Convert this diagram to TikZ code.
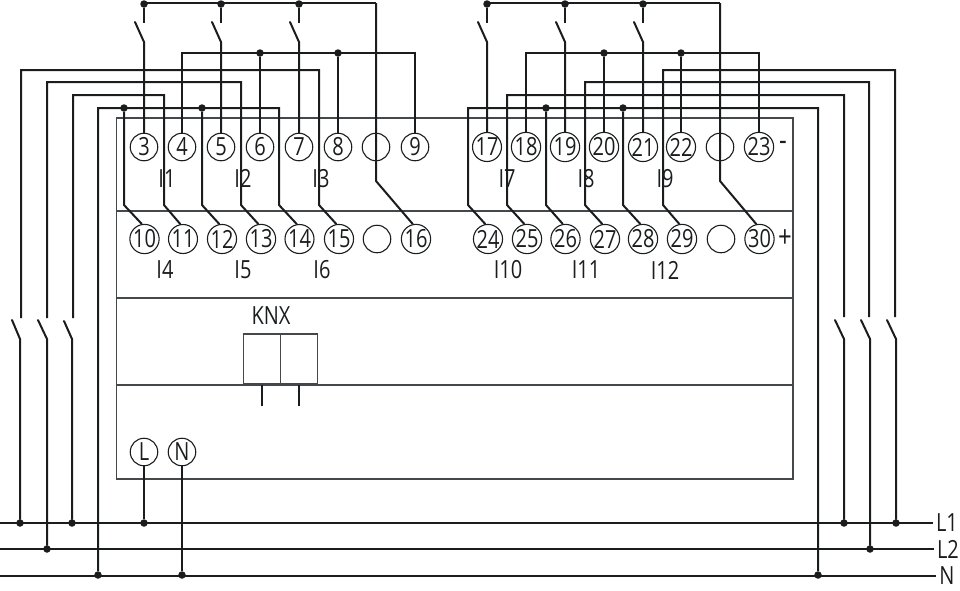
\documentclass[tikz,border=0pt]{standalone}
\usepackage{fontspec}
\setmainfont[FakeStretch=0.8]{Open Sans}
\definecolor{wirecol}{HTML}{1A1C1E}
\definecolor{casecol}{HTML}{44484A}
\tikzset{
  wire/.style={draw=wirecol,line width=2pt},
  casing/.style={draw=casecol,line width=1.4pt},
  terminal/.style={circle,draw=wirecol,line width=1.1pt,inner sep=0pt,minimum size=27.5pt,font=\fontsize{25}{25}\selectfont,text=wirecol},
  junction/.style={circle,fill=wirecol,inner sep=0pt,minimum size=7.5pt},
  lab/.style={inner sep=0pt,font=\fontsize{25}{25}\selectfont,text=wirecol},
  knxbox/.style={rectangle,casing,minimum width=37pt,minimum height=50pt,inner sep=0pt}
}
\begin{document}
\begin{tikzpicture}[x=1pt,y=-1pt]
\useasboundingbox (0,0) rectangle (960,590);

% Device
\draw[casing] (116.5,118) rectangle (793,479);
\draw[casing] (116.5,211) -- (793,211);
\draw[casing] (116.5,298) -- (793,298);
\draw[casing] (116.5,385) -- (793,385);
\node[knxbox] (k1) at (262,359) {};
\node[knxbox] (k2) at (299,359) {};
\node[lab] (knx) at (271,315.5) {KNX};
\draw[wire] (k1.south) -- ++(0,21);
\draw[wire] (k2.south) -- ++(0,21);

% Terminals
\foreach \n/\x in {3/144,4/182,5/221,6/260,7/299,8/338,9/415,17/487,18/526,19/565,20/604,21/643,22/681,23/759}
  \node[terminal] (t\n) at (\x,147) {\n};
\foreach \n/\x in {10/144.5,11/183,12/222,13/261,14/299.5,15/339,16/416,24/488,25/527,26/565.5,27/605,28/643,29/682,30/759.5}
  \node[terminal] (t\n) at (\x,239) {\n};
\node[terminal] (ta) at (376,147) {};
\node[terminal] (tb) at (720,147) {};
\node[terminal] (tc) at (377,239) {};
\node[terminal] (td) at (721,239) {};
\node[terminal] (tL) at (144,452) {L};
\node[terminal] (tN) at (182,452) {N};

% Labels
\foreach \n/\x/\y in {I1/167/178.5,I2/243/178.5,I3/321/178.5,I4/165/270,I5/243/270,I6/322/270,I7/507/178.5,I8/586/178.5,I9/665/178.5,I10/508/270,I11/586/270,I12/665/270}
  \node[lab] (\n) at (\x,\y) {\n};
\node[lab] (minus) at (783,146) {\fontsize{30}{30}\selectfont -};
\node[lab] (plus) at (785,239) {\fontsize{30}{30}\selectfont +};
\node[lab] (nL1) at (947,523) {L1};
\node[lab] (nL2) at (948,549) {L2};
\node[lab] (nN) at (947,575.5) {N};

% Buses
\draw[wire,shorten >=3pt] (0,523) -- (nL1.west |- 0,523);
\draw[wire,shorten >=3pt] (0,549) -- (nL2.west |- 0,549);
\draw[wire,shorten >=3pt] (0,576) -- (nN.west |- 0,576);
\node[junction] (b1) at (20,523) {};
\node[junction] (b2) at (47,549) {};
\node[junction] (b3) at (72,523) {};
\node[junction] (b4) at (98,575) {};
\node[junction] (b5) at (144,523) {};
\node[junction] (b6) at (182,575) {};
\node[junction] (b7) at (818,575) {};
\node[junction] (b8) at (844,523) {};
\node[junction] (b9) at (870,549) {};
\node[junction] (b10) at (896,523) {};
\draw[wire] (tL) -- (b5);
\draw[wire] (tN) -- (b6);

% Upper rails
\foreach \a/\b/\c/\d/\e/\f/\g in {144/221/299/376/3/5/7,487/565/643/720/17/19/21}{
  \draw[wire] (\a,3) -- (\d,3);
  \foreach \x/\n in {\a/\e,\b/\f,\c/\g}{
    \node[junction] (s\n) at (\x,4) {};
    \draw[wire] (s\n) -- (\x,23);
    \draw[wire,line cap=round] (\x-9,22) -- (\x,42) -- (t\n.north);
  }
}
\draw[wire] (376,3) -- (376,181) -- (t16.102);
\draw[wire] (720,3) -- (720,181) -- (t30.102);

% Return rails
\draw[wire] (t4.north) |- (415,53) -- (t9.north);
\node[junction] (r6) at (260,53) {};
\node[junction] (r8) at (338,53) {};
\draw[wire] (r6) -- (t6.north);
\draw[wire] (r8) -- (t8.north);
\draw[wire] (t18.north) |- (759,53) -- (t23.north);
\node[junction] (r20) at (604,53) {};
\node[junction] (r22) at (681,53) {};
\draw[wire] (r20) -- (t20.north);
\draw[wire] (r22) -- (t22.north);

% Inputs left
\draw[wire] (21,318) -- (21,70) -- (319,70) -- (319,205) -- (t15.100);
\draw[wire] (47,318) -- (47,82) -- (241,82) -- (241,205) -- (t13.100);
\draw[wire] (73,318) -- (73,95) -- (164,95) -- (164,205) -- (t11.100);
\draw[wire] (b4) -- (98,108) -- (279,108) -- (279,205) -- (t14.100);
\node[junction] (c1) at (124,108) {};
\node[junction] (c2) at (202,108) {};
\draw[wire] (c1) -- (124,205) -- (t10.100);
\draw[wire] (c2) -- (202,205) -- (t12.100);

% Inputs right
\draw[wire] (895,317) -- (895,70) -- (663,70) -- (663,205) -- (t29.100);
\draw[wire] (869,317) -- (869,82) -- (585,82) -- (585,205) -- (t27.100);
\draw[wire] (844,317) -- (844,95) -- (507,95) -- (507,205) -- (t25.100);
\draw[wire] (b7) -- (818,108) -- (468,108) -- (468,205) -- (t24.100);
\node[junction] (c3) at (546,108) {};
\node[junction] (c4) at (623,108) {};
\draw[wire] (c3) -- (546,205) -- (t26.100);
\draw[wire] (c4) -- (623,205) -- (t28.100);

% Switches
\draw[wire,line cap=round] (12,320) -- (20,339) -- (b1);
\draw[wire,line cap=round] (38,320) -- (47,339) -- (b2);
\draw[wire,line cap=round] (64,321) -- (72,339) -- (b3);
\draw[wire,line cap=round] (835,320) -- (844,339) -- (b8);
\draw[wire,line cap=round] (861,320) -- (870,339) -- (b9);
\draw[wire,line cap=round] (887,320) -- (896,339) -- (b10);
\end{tikzpicture}
\end{document}
